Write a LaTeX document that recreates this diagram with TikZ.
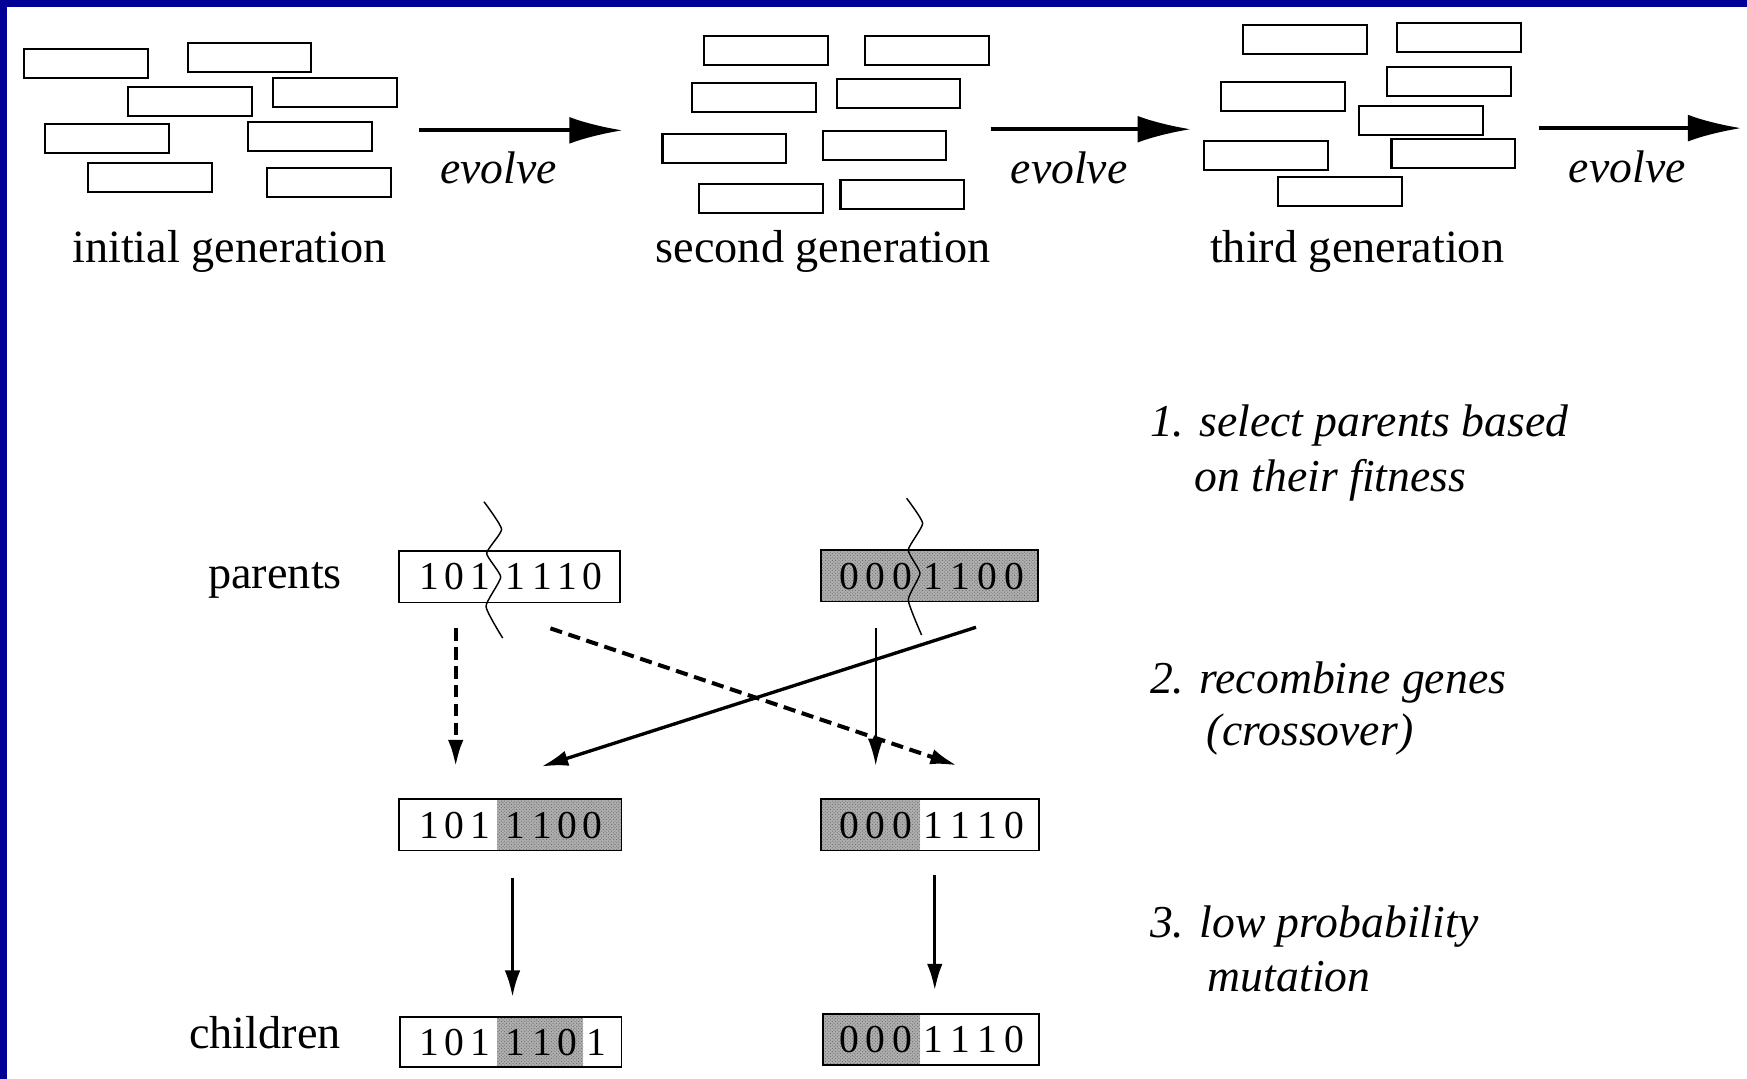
\documentclass[tikz,border=0pt]{standalone}
\usepackage{fontspec}
\setmainfont{Liberation Serif}
\usetikzlibrary{arrows.meta,patterns}
\definecolor{frameblue}{RGB}{0,0,150}
\definecolor{shade}{RGB}{175,175,175}
\begin{document}
\begin{tikzpicture}[x=1pt,y=-1pt,
  gen/.style={draw, line width=1.9pt, minimum width=111pt, minimum height=26pt, inner sep=0pt, anchor=north west},
  evo/.style={-{Latex[length=48pt,width=24pt]}, line width=3.6pt},
  lab/.style={font=\fontsize{41.5}{48}\selectfont, inner sep=0pt, anchor=base},
  ital/.style={font=\fontsize{41}{48}\selectfont\itshape, inner sep=0pt, anchor=base west},
  bitbox/.style={draw, line width=1.6pt, inner sep=0pt, anchor=north west, minimum height=46pt},
  bit/.style={font=\fontsize{35.5}{40}\selectfont, inner sep=0pt, anchor=base},
  shaded/.style={fill=shade, postaction={pattern=crosshatch dots, pattern color=black!60}},
  cutline/.style={line width=1.3pt},
  tip/.style={-{Latex[length=24pt,width=14pt]}},
  dasharrow/.style={tip, line width=3.6pt, dash pattern=on 11pt off 6pt},
  solidarrow/.style={tip, line width=3pt},
  thinarrow/.style={tip, line width=2pt}
]
\useasboundingbox (0,0) rectangle (1568,968);
\fill[white] (0,0) rectangle (1568,968);
% frame
\fill[frameblue] (0,0) rectangle (1568,6.6);
\fill[frameblue] (0,0) rectangle (6.6,968);

% generation 1
\node[gen] (a1) at (20.6,43.4) {};
\node[gen] (a2) at (167.5,38) {};
\node[gen] (a3) at (114.3,77.2) {};
\node[gen] (a4) at (244,68.8) {};
\node[gen] (a5) at (39.7,110) {};
\node[gen] (a6) at (221.8,108.3) {};
\node[gen] (a7) at (78,145.7) {};
\node[gen] (a8) at (238.8,149.6) {};
% generation 2
\node[gen] (b1) at (631.3,31.4) {};
\node[gen] (b2) at (775.8,31.4) {};
\node[gen] (b3) at (620.3,73.9) {};
\node[gen] (b4) at (749.9,70.3) {};
\node[gen] (b5) at (593.7,119) {};
\node[gen] (b6) at (737.5,116.7) {};
\node[gen] (b7) at (626.7,163.9) {};
\node[gen] (b8) at (753.4,161) {};
% generation 3
\node[gen] (c1) at (1115,21.5) {};
\node[gen] (c2) at (1253,19.4) {};
\node[gen] (c3) at (1095,73) {};
\node[gen] (c4) at (1244,59) {};
\node[gen] (c5) at (1219,94) {};
\node[gen] (c6) at (1080,125.6) {};
\node[gen] (c7) at (1248,124) {};
\node[gen] (c8) at (1146,157.6) {};

\node[lab] (g1) at (206,236) {initial generation};
\node[lab] (g2) at (739,236) {second generation};
\node[lab] (g3) at (1218,236) {third generation};

\coordinate (e1s) at (376,117); \coordinate (e1e) at (559,117);
\coordinate (e2s) at (889,116); \coordinate (e2e) at (1069,116);
\coordinate (e3s) at (1381,115); \coordinate (e3e) at (1563,115);
\draw[evo] (e1s) -- (e1e);
\draw[evo] (e2s) -- (e2e);
\draw[evo] (e3s) -- (e3e);
\node[ital] (v1) at (395,165) {evolve};
\node[ital] (v2) at (907,165) {evolve};
\node[ital] (v3) at (1408,164) {evolve};

% labels
\node[lab, anchor=base east] (par) at (307,528.5) {parents};
\node[lab, anchor=base east] (chi) at (306,941) {children};

% parents
\node[bitbox, minimum width=199pt] (p1) at (357,494) {};
\foreach \x/\d [count=\i] in {385/1,408/0,431/1,463/1,487/1,509/1,532/0}
  \node[bit] (p1d\i) at (\x,529.5) {\d};
\fill[shaded] (736,493) rectangle (931,539);
\node[bitbox, minimum width=195pt] (p2) at (736,493) {};
\foreach \x/\d [count=\i] in {762/0,786/0,810/0,838/1,862/1,886/0,910/0}
  \node[bit] (p2d\i) at (\x,529) {\d};

% cut lines
\draw[cutline] plot[smooth, tension=0.3] coordinates {(434.4,450.3) (450.2,475) (436.8,496.6) (449.4,518) (436.2,544.3) (451.2,572.7)};
\draw[cutline] plot[smooth, tension=0.3] coordinates {(813.7,447.2) (828.1,469.7) (815.2,493.6) (825.7,514.6) (815.2,538.5) (827.2,570)};

% recombined
\fill[shaded] (446,716.5) rectangle (557,763);
\node[bitbox, minimum width=200pt] (m1) at (357,716.5) {};
\foreach \x/\d [count=\i] in {385/1,408/0,431/1,463/1,487/1,509/0,532/0}
  \node[bit] (m1d\i) at (\x,752.4) {\d};
\fill[shaded] (736,716.5) rectangle (826,763);
\node[bitbox, minimum width=196pt] (m2) at (736,716.5) {};
\foreach \x/\d [count=\i] in {762/0,786/0,810/0,838/1,862/1,886/1,910/0}
  \node[bit] (m2d\i) at (\x,752.4) {\d};

% children
\fill[shaded] (446,912) rectangle (523.4,957);
\node[bitbox, minimum width=199pt, minimum height=45pt] (k1) at (358,912) {};
\foreach \x/\d [count=\i] in {385/1,408/0,431/1,463/1,487/1,509/0,535/1}
  \node[bit] (k1d\i) at (\x,947) {\d};
\fill[shaded] (738,909) rectangle (826,955);
\node[bitbox, minimum width=194pt] (k2) at (738,909) {};
\foreach \x/\d [count=\i] in {762/0,786/0,810/0,838/1,862/1,886/1,910/0}
  \node[bit] (k2d\i) at (\x,945) {\d};

% crossover arrows
\coordinate (x1s) at (409,564); \coordinate (x1e) at (409,688);
\coordinate (x2s) at (494,564); \coordinate (x2e) at (859,687);
\coordinate (x3s) at (876,563); \coordinate (x3e) at (486,688);
\coordinate (x4s) at (786,564); \coordinate (x4e) at (786,687);
\draw[dasharrow] (x1s) -- (x1e);
\draw[dasharrow] (x2s) -- (x2e);
\draw[solidarrow] (x3s) -- (x3e);
\draw[thinarrow] (x4s) -- (x4e);

% mutation arrows
\coordinate (u1s) at (460,788); \coordinate (u1e) at (460,895);
\coordinate (u2s) at (839,785); \coordinate (u2e) at (839,889);
\draw[solidarrow] (u1s) -- (u1e);
\draw[solidarrow] (u2s) -- (u2e);

% steps
\node[ital] (s1a) at (1032,392) {1. select parents based};
\node[ital] (s1b) at (1072,441) {on their fitness};
\node[ital] (s2a) at (1032,622) {2. recombine genes};
\node[ital] (s2b) at (1083,669) {(crossover)};
\node[ital] (s3a) at (1032,841) {3. low probability};
\node[ital] (s3b) at (1084,890) {mutation};
\end{tikzpicture}
\end{document}
